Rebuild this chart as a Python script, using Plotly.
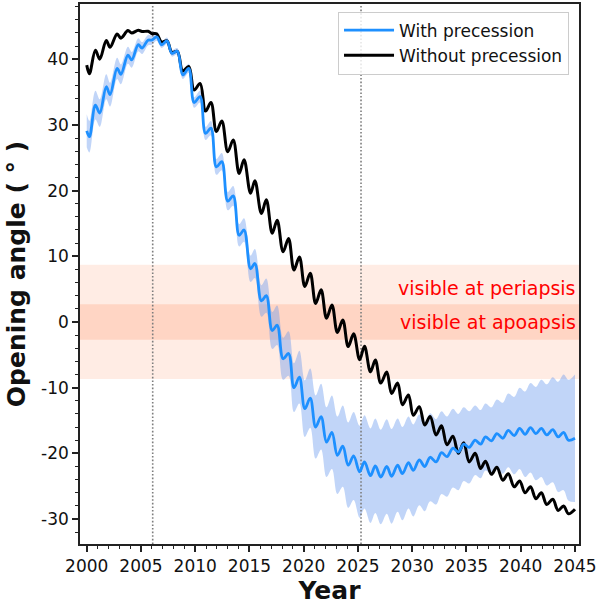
import plotly.graph_objects as go

# Sample times (local extremes of the yearly wiggle)
years = [
    2000.0, 2000.25, 2000.8, 2001.2, 2001.8, 2002.15, 2002.8, 2003.15, 2003.8, 2004.15,
    2004.75, 2005.1, 2005.65, 2006.0, 2006.45, 2006.9, 2007.4, 2007.85, 2008.35, 2008.85,
    2009.4, 2009.9, 2010.45, 2010.95, 2011.45, 2011.95, 2012.45, 2013.0, 2013.5, 2014.05,
    2014.5, 2015.1, 2015.5, 2016.1, 2016.55, 2017.1, 2017.55, 2018.1, 2018.6, 2019.1,
    2019.6, 2020.1, 2020.6, 2021.1, 2021.6, 2022.1, 2022.6, 2023.1, 2023.6, 2024.1,
    2024.6, 2025.15, 2025.6, 2026.15, 2026.6, 2027.1, 2027.65, 2028.1, 2028.65, 2029.1,
    2029.65, 2030.1, 2030.65, 2031.15, 2031.65, 2032.2, 2032.7, 2033.2, 2033.75, 2034.25,
    2034.75, 2035.25, 2035.8, 2036.3, 2036.75, 2037.3, 2037.8, 2038.35, 2038.85, 2039.4,
    2039.9, 2040.4, 2040.9, 2041.4, 2041.9, 2042.4, 2042.95, 2043.45, 2043.95, 2044.4,
    2045.0,
]

without_precession = [
    39.1, 37.8, 41.35, 40.0, 42.85, 41.8, 43.85, 43.2, 44.35, 44.0,
    44.4, 44.2, 44.25, 43.9, 43.85, 42.6, 42.8, 41.0, 41.2, 38.2,
    38.9, 35.3, 36.3, 32.1, 33.4, 29.0, 30.6, 25.9, 27.7, 22.6,
    24.7, 19.6, 21.5, 16.5, 18.6, 13.5, 15.5, 10.7, 12.7, 7.9,
    9.9, 5.4, 7.4, 2.8, 4.9, 0.55, 2.6, -1.6, 0.3, -3.75,
    -1.8, -5.75, -3.7, -7.6, -5.8, -9.3, -7.6, -10.9, -9.3, -12.6,
    -11.1, -14.2, -12.9, -15.7, -14.4, -17.2, -15.8, -18.7, -17.4, -20.0,
    -18.4, -21.3, -20.0, -22.3, -21.2, -23.2, -22.1, -24.1, -23.1, -25.1,
    -24.2, -26.0, -25.1, -26.9, -26.0, -27.8, -27.0, -28.7, -28.0, -29.2,
    -28.5,
]

with_precession = [
    29.1, 28.2, 33.0, 31.8, 35.8, 34.6, 38.6, 37.7, 40.6, 39.9,
    42.2, 41.7, 42.9, 42.9, 43.4, 42.2, 42.8, 40.9, 41.2, 37.6,
    38.6, 33.4, 34.3, 28.7, 29.5, 23.6, 24.4, 18.4, 19.2, 13.2,
    14.0, 8.1, 8.9, 3.2, 4.0, -1.3, -0.5, -5.6, -4.8, -10.0,
    -8.4, -13.2, -11.6, -16.0, -14.4, -18.3, -16.8, -20.3, -18.9, -21.8,
    -20.4, -22.8, -21.3, -23.4, -21.9, -23.6, -22.0, -23.5, -21.8, -23.1,
    -21.4, -22.6, -21.0, -22.0, -20.6, -21.3, -19.9, -20.5, -19.2, -19.8,
    -18.6, -19.1, -18.0, -18.6, -17.5, -18.1, -17.0, -17.7, -16.5, -17.3,
    -16.2, -17.1, -16.1, -17.0, -16.2, -17.2, -16.4, -17.5, -16.8, -18.0,
    -17.7,
]

# Half-width of the shaded uncertainty band around "With precession"
uncertainty = [
    2.5, 2.4, 2.2, 2.1, 1.9, 1.8, 1.6, 1.5, 1.3, 1.2,
    1.0, 0.9, 0.8, 0.7, 0.6, 0.5, 0.5, 0.5, 0.5, 0.6,
    0.7, 0.8, 0.9, 1.0, 1.1, 1.2, 1.3, 1.4, 1.5, 1.7,
    1.8, 2.0, 2.2, 2.4, 2.6, 2.8, 3.0, 3.2, 3.4, 3.7,
    4.0, 4.3, 4.5, 4.8, 5.0, 5.3, 5.6, 5.9, 6.2, 6.5,
    6.7, 7.0, 7.1, 7.2, 7.2, 7.2, 7.2, 7.2, 7.1, 7.1,
    7.0, 7.0, 6.9, 6.8, 6.7, 6.5, 6.3, 6.1, 6.0, 5.8,
    5.6, 5.5, 5.3, 5.2, 5.1, 5.1, 5.2, 5.4, 5.6, 5.9,
    6.2, 6.5, 6.8, 7.1, 7.4, 7.7, 8.0, 8.4, 8.8, 9.2,
    9.7,
]

event_years = [2006.08, 2025.28]
periapsis_limit = 8.7
apoapsis_limit = 2.7
band_labels = ["visible at periapsis", "visible at apoapsis"]
band_label_values = [5.2, 0.0]

x_tick_values = [2000, 2005, 2010, 2015, 2020, 2025, 2030, 2035, 2040, 2045]
x_tick_labels = ["2000", "2005", "2010", "2015", "2020", "2025", "2030", "2035", "2040", "2045"]
y_tick_values = [-30, -20, -10, 0, 10, 20, 30, 40]
y_tick_labels = ["-30", "-20", "-10", "0", "10", "20", "30", "40"]

X_RANGE = [1999.38, 2045.37]
Y_RANGE = [-33.8, 48.4]

FONT = "DejaVu Sans"
AXIS_COLOR = "#222222"

lower = [v - w for v, w in zip(with_precession, uncertainty)]
upper = [v + w for v, w in zip(with_precession, uncertainty)]

fig = go.Figure()

fig.add_trace(go.Scatter(
    x=years, y=lower, mode="lines",
    line=dict(width=0, shape="spline"),
    showlegend=False, hoverinfo="skip",
))
fig.add_trace(go.Scatter(
    x=years, y=upper, mode="lines",
    line=dict(width=0, shape="spline"),
    fill="tonexty", fillcolor="rgba(100,149,237,0.4)",
    showlegend=False, hoverinfo="skip",
))

for ey in event_years:
    fig.add_trace(go.Scatter(
        x=[ey, ey], y=Y_RANGE, mode="lines",
        line=dict(color="rgb(125,125,125)", width=1.6, dash="1.6px,2px"),
        showlegend=False, hoverinfo="skip",
    ))

fig.add_trace(go.Scatter(
    x=years, y=without_precession, mode="lines", name="Without precession",
    line=dict(color="black", width=3, shape="spline"),
    legendrank=2,
))
fig.add_trace(go.Scatter(
    x=years, y=with_precession, mode="lines", name="With precession",
    line=dict(color="#1e90ff", width=2.8, shape="spline"),
    legendrank=1,
))

fig.add_shape(type="rect", xref="paper", x0=0, x1=1, yref="y",
              y0=-periapsis_limit, y1=periapsis_limit,
              fillcolor="rgba(255,160,122,0.2)", line_width=0, layer="below")
fig.add_shape(type="rect", xref="paper", x0=0, x1=1, yref="y",
              y0=-apoapsis_limit, y1=apoapsis_limit,
              fillcolor="rgba(255,160,122,0.3)", line_width=0, layer="below")

for txt, yv in zip(band_labels, band_label_values):
    fig.add_annotation(text=txt, x=1, xref="paper", xanchor="right", xshift=-1,
                       y=yv, yref="y", yanchor="middle", showarrow=False,
                       font=dict(family=FONT, size=19, color="red"))

axis_common = dict(
    showline=True, linecolor=AXIS_COLOR, linewidth=1.5, mirror=True,
    showgrid=False, zeroline=False, automargin=False,
    ticks="outside", ticklen=6, tickwidth=1.5, tickcolor=AXIS_COLOR,
    tickfont=dict(family=FONT, size=17, color="#111111"),
)

fig.update_layout(
    width=598, height=608,
    margin=dict(l=80, r=19, t=4, b=64),
    plot_bgcolor="white", paper_bgcolor="white",
    font=dict(family=FONT, color="#111111"),
    xaxis=dict(
        range=X_RANGE, tickmode="array", tickvals=x_tick_values, ticktext=x_tick_labels,
        minor=dict(tick0=2000, dtick=1, ticklen=3.5, tickwidth=1, ticks="outside", tickcolor=AXIS_COLOR, showgrid=False),
        title=dict(text="<b>Year</b>", font=dict(family=FONT, size=25, color="#111111"), standoff=4),
        **axis_common,
    ),
    yaxis=dict(
        range=Y_RANGE, tickmode="array", tickvals=y_tick_values, ticktext=y_tick_labels,
        minor=dict(tick0=0, dtick=2, ticklen=3.5, tickwidth=1, ticks="outside", tickcolor=AXIS_COLOR, showgrid=False),
        title=dict(text="<b>Opening angle ( ° )</b>", font=dict(family=FONT, size=25, color="#111111"), standoff=8),
        **axis_common,
    ),
    legend=dict(
        x=0.98, y=0.986, xanchor="right", yanchor="top",
        bgcolor="rgba(255,255,255,0.8)", bordercolor="#cccccc", borderwidth=1,
        font=dict(family=FONT, size=17, color="#111111"),
        traceorder="normal", itemwidth=50,
    ),
    showlegend=True,
)

fig.write_html("out.html", config={"displayModeBar": False},
               post_script="document.body.style.margin='0px';")
